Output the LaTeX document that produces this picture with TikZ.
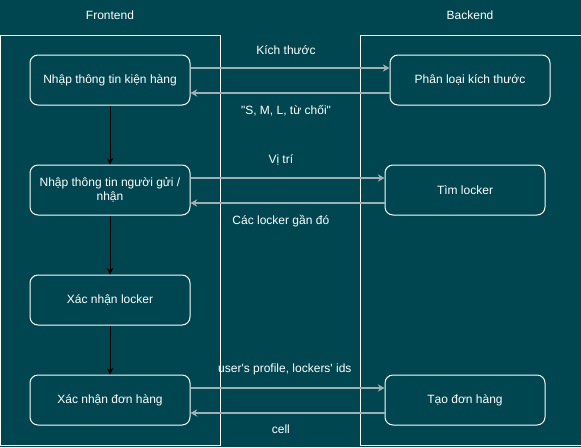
\documentclass[tikz,border=0pt]{standalone}
\usepackage{fontspec}
\setmainfont{Liberation Sans}
\usetikzlibrary{arrows.meta,positioning}
\definecolor{bgteal}{RGB}{0,70,80}
\definecolor{linkgray}{RGB}{160,176,178}

\begin{document}
\begin{tikzpicture}[x=0.75pt, y=-0.75pt,
    font=\fontsize{9}{11}\selectfont, text=white,
    proc/.style={draw=white, line width=0.75pt, rounded corners=6pt,
        minimum width=120pt, minimum height=37.5pt, align=center},
    msg/.style={draw=linkgray, line width=1.1pt, -{Stealth[length=5pt, width=5.5pt]}},
    flow/.style={draw=black, line width=0.75pt, -{Stealth[length=5pt, width=5pt]}}]
    % Background and lanes
    \useasboundingbox (0,0) rectangle (581,447);
    \fill[bgteal] (0,0) rectangle (581,447);
    \draw[white, line width=0.75pt] (0.5,35) rectangle (220,445.5);
    \draw[white, line width=0.75pt] (590,35) -- (360,35) -- (360,445.5) -- (590,445.5);
    \node (fe) at (110,15) {Frontend};
    \node (be) at (470,15) {Backend};
    % Nodes
    \node[proc] (f1) at (110,80) {Nhập thông tin kiện hàng};
    \node[proc] (f2) at (110,190) {Nhập thông tin người gửi /\\nhận};
    \node[proc] (f3) at (110,300) {Xác nhận locker};
    \node[proc] (f4) at (110,400) {Xác nhận đơn hàng};
    \node[proc] (b1) at (470,80) {Phân loại kích thước};
    \node[proc] (b2) at (465,190) {Tìm locker};
    \node[proc] (b3) at (465,400) {Tạo đơn hàng};
    % Edges
    \draw[flow] (f1) -- (f2);
    \draw[flow] (f2) -- (f3);
    \draw[flow] (f3) -- (f4);
    \draw[msg] ([yshift=9pt]f1.east) -- ([yshift=9pt]f1.east -| b1.west)
        node[midway, above=6pt, xshift=-3pt] {Kích thước};
    \draw[msg] ([yshift=-9.75pt]b1.west) -- ([yshift=-9.75pt]b1.west -| f1.east)
        node[midway, below=5pt, xshift=-3pt] {\textquotedbl S, M, L, từ chối\textquotedbl};
    \draw[msg] ([yshift=9pt]f2.east) -- ([yshift=9pt]f2.east -| b2.west)
        node[midway, above=6pt, xshift=-5pt] {Vị trí};
    \draw[msg] ([yshift=-9.75pt]b2.west) -- ([yshift=-9.75pt]b2.west -| f2.east)
        node[midway, below=5pt, xshift=-5pt] {Các locker gần đó};
    \draw[msg] ([yshift=9pt]f4.east) -- ([yshift=9pt]f4.east -| b3.west)
        node[midway, above=6pt, xshift=-2pt] {user\textquotesingle s profile, lockers\textquotesingle{} ids};
    \draw[msg] ([yshift=-9.75pt]b3.west) -- ([yshift=-9.75pt]b3.west -| f4.east)
        node[midway, below=5pt, xshift=-5pt] {cell};
\end{tikzpicture}
\end{document}
